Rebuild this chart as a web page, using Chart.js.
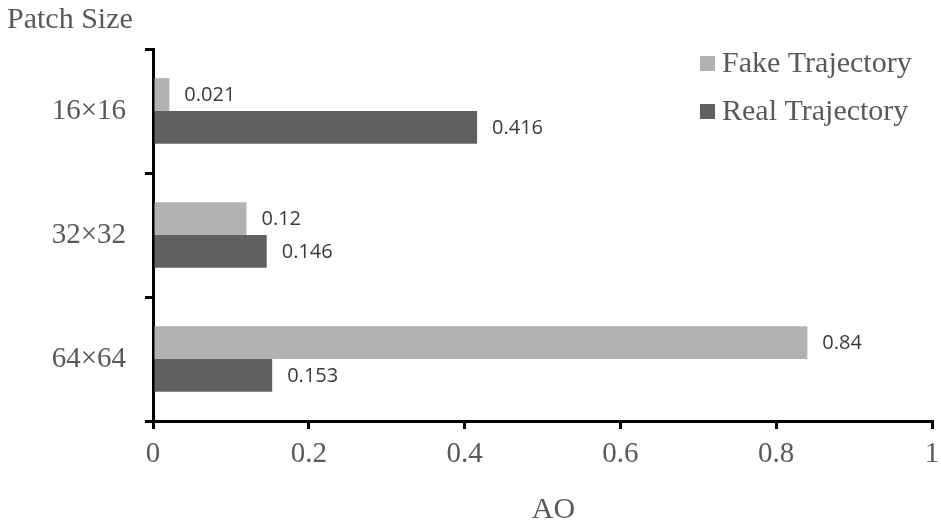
<!DOCTYPE html>
<html>
<head>
<meta charset="utf-8">
<script src="https://cdn.jsdelivr.net/npm/chart.js@4/dist/chart.umd.min.js"></script>
<style>
  body { margin: 0; background: #fff; }
</style>
</head>
<body>
<canvas id="bar-chart" width="941" height="526"></canvas>
<script>
var categories = ['16×16', '32×32', '64×64'];
var fakeValues = [0.021, 0.12, 0.84];
var realValues = [0.416, 0.146, 0.153];
var xTicks = [0, 0.2, 0.4, 0.6, 0.8, 1];

var serif = '"Liberation Serif", "Times New Roman", serif';
var textGrey = '#595959';

// value labels at the end of each bar
var barLabels = {
    id: 'barLabels',
    afterDatasetsDraw: function(chart) {
        var ctx = chart.ctx;
        ctx.save();
        ctx.font = '20px "Open Sans", sans-serif';
        ctx.fillStyle = '#3a3a3a';
        ctx.textAlign = 'left';
        ctx.textBaseline = 'middle';
        chart.data.datasets.forEach(function(ds, i) {
            chart.getDatasetMeta(i).data.forEach(function(bar, j) {
                ctx.fillText(String(ds.data[j]), bar.x + 15, bar.y + 1);
            });
        });
        ctx.restore();
    }
};

// caption at top, x title and legend in the top right corner
var extras = {
    id: 'extras',
    afterDraw: function(chart) {
        var ctx = chart.ctx;
        var area = chart.chartArea;
        ctx.save();
        ctx.font = '30px ' + serif;
        ctx.fillStyle = textGrey;
        ctx.textBaseline = 'middle';
        ctx.textAlign = 'left';
        ctx.fillText('Patch Size', 7, 20);

        ctx.textAlign = 'center';
        ctx.fillText('AO', (area.left + area.right) / 2 + 11, 510);

        ctx.textAlign = 'left';
        chart.data.datasets.forEach(function(ds, i) {
            var y = area.top + 14 + i * 48;
            ctx.fillStyle = ds.backgroundColor;
            ctx.fillRect(area.right - 232, y - 7, 15, 15);
            ctx.fillStyle = textGrey;
            ctx.fillText(ds.label, area.right - 210, y + 1);
        });
        ctx.restore();
    }
};

var ctx = document.getElementById('bar-chart').getContext('2d');
var myChart = new Chart(ctx, {
    type: 'bar',
    data: {
        labels: categories,
        datasets: [{
            label: 'Fake Trajectory',
            data: fakeValues,
            backgroundColor: '#b2b2b2'
        }, {
            label: 'Real Trajectory',
            data: realValues,
            backgroundColor: '#606060'
        }]
    },
    options: {
        indexAxis: 'y',
        responsive: false,
        animation: false,
        devicePixelRatio: 1,
        layout: { padding: { top: 49, right: 9, left: 0, bottom: 0 } },
        datasets: {
            bar: { barPercentage: 1, categoryPercentage: 0.53 }
        },
        plugins: {
            legend: { display: false },
            tooltip: { enabled: false }
        },
        scales: {
            x: {
                min: 0,
                max: 1,
                afterBuildTicks: function(axis) {
                    axis.ticks = xTicks.map(function(v) { return { value: v }; });
                },
                afterFit: function(axis) {
                    axis.height = 105;
                    axis.paddingLeft = 0;
                    axis.paddingRight = 0;
                },
                border: { color: '#000', width: 3 },
                grid: {
                    drawOnChartArea: false,
                    drawTicks: true,
                    tickLength: 8,
                    color: '#000',
                    lineWidth: 3
                },
                ticks: {
                    color: textGrey,
                    font: { family: serif, size: 29 },
                    padding: 8,
                    maxRotation: 0,
                    callback: function(v) { return String(v); }
                }
            },
            y: {
                afterFit: function(axis) { axis.width = 153; },
                border: { color: '#000', width: 3 },
                grid: {
                    offset: true,
                    drawOnChartArea: false,
                    drawTicks: true,
                    tickLength: 8,
                    color: '#000',
                    lineWidth: 3
                },
                ticks: {
                    color: textGrey,
                    font: { family: serif, size: 29 },
                    padding: 19
                }
            }
        }
    },
    plugins: [barLabels, extras]
});
</script>
</body>
</html>
